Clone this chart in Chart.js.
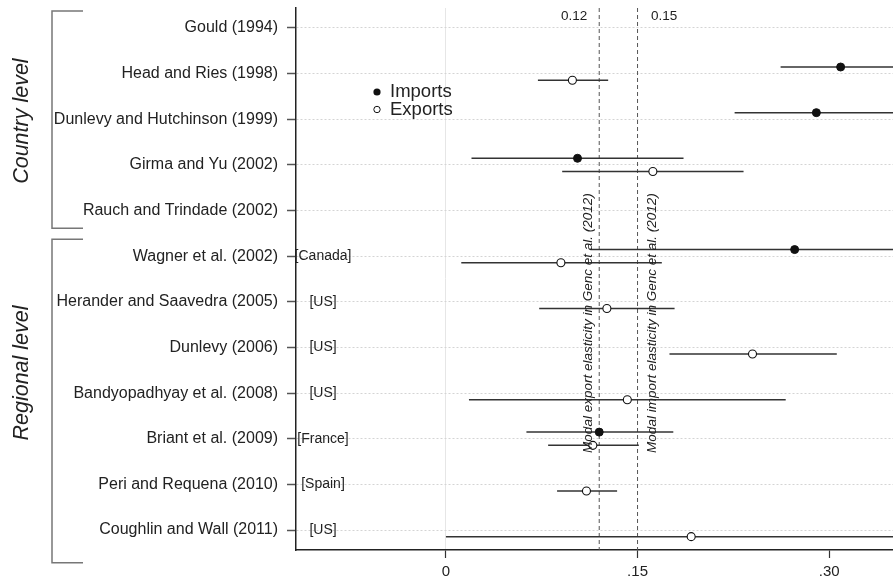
<!DOCTYPE html>
<html lang="en">
<head>
<meta charset="UTF-8">
<title>Ethnic network trade elasticities</title>
<script src="https://cdn.jsdelivr.net/npm/chart.js"></script>
<style>
  body { margin: 0; background: #fff; }
  #wrap { width: 893px; height: 583px; position: relative; }
</style>
</head>
<body>
<div id="wrap"><canvas id="chart"></canvas></div>
<script>
// studies, top to bottom
const studies = [
  'Gould (1994)', 'Head and Ries (1998)', 'Dunlevy and Hutchinson (1999)',
  'Girma and Yu (2002)', 'Rauch and Trindade (2002)', 'Wagner et al. (2002)',
  'Herander and Saavedra (2005)', 'Dunlevy (2006)', 'Bandyopadhyay et al. (2008)',
  'Briant et al. (2009)', 'Peri and Requena (2010)', 'Coughlin and Wall (2011)'
];
const regions = ['', '', '', '', '', '[Canada]', '[US]', '[US]', '[US]', '[France]', '[Spain]', '[US]'];

// estimates and interval bounds (null = not reported)
const importEst = [null, 0.309, 0.290, 0.103, null, 0.273, null, null, null, 0.120, null, null];
const importLo  = [null, 0.262, 0.226, 0.020, null, 0.113, null, null, null, 0.063, null, null];
const importHi  = [null, 0.400, 0.400, 0.186, null, 0.400, null, null, null, 0.178, null, null];
const exportEst = [null, 0.099, null, 0.162, null, 0.090, 0.126, 0.240, 0.142, 0.115, 0.110, 0.192];
const exportLo  = [null, 0.072, null, 0.091, null, 0.012, 0.073, 0.175, 0.018, 0.080, 0.087, 0.000];
const exportHi  = [null, 0.127, null, 0.233, null, 0.169, 0.179, 0.306, 0.266, 0.151, 0.134, 0.400];

// reference lines (Genc et al. 2012)
const refValues = [0.12, 0.15];
const refLabels = ['0.12', '0.15'];
const refNotes = ['Modal export elasticity in Genc et al. (2012)', 'Modal import elasticity in Genc et al. (2012)'];

const xTicks = [0, 0.15, 0.30];
const xTickLabels = ['0', '.15', '.30'];

const groupNames = ['Country level', 'Regional level'];
const groupRows = [[0, 4], [5, 11]];

const FONT = "'Liberation Sans', Arial, Helvetica, sans-serif";
const OFF = 0.145;
const Y_MIN = -0.438, Y_MAX = 11.438;

function segment(lo, hi, y, dash) {
  return {
    data: [{ x: lo, y: y }, { x: hi, y: y }],
    showLine: true,
    borderColor: dash ? '#555' : '#333',
    borderWidth: dash ? 1 : 1.5,
    borderDash: dash ? [4, 3] : [],
    pointRadius: 0,
    order: dash ? 3 : 2
  };
}

const datasets = [];
studies.forEach((s, i) => {
  if (importEst[i] !== null) datasets.push(segment(importLo[i], importHi[i], i - OFF));
  if (exportEst[i] !== null) datasets.push(segment(exportLo[i], exportHi[i], i + OFF));
});
refValues.forEach(v => {
  const d = segment(v, v, 0, true);
  d.data = [{ x: v, y: Y_MIN }, { x: v, y: Y_MAX }];
  datasets.push(d);
});
datasets.push({
  label: 'Imports',
  data: studies.map((s, i) => importEst[i] === null ? null : { x: importEst[i], y: i - OFF }).filter(Boolean),
  pointRadius: 4, backgroundColor: '#111', borderColor: '#111', borderWidth: 1, order: 0
});
datasets.push({
  label: 'Exports',
  data: studies.map((s, i) => exportEst[i] === null ? null : { x: exportEst[i], y: i + OFF }).filter(Boolean),
  pointRadius: 4, backgroundColor: '#fff', borderColor: '#111', borderWidth: 1.1, order: 0
});

const extras = {
  id: 'extras',
  afterDatasetsDraw(chart) {
    const { ctx, chartArea, scales: { x, y } } = chart;
    ctx.save();
    ctx.fillStyle = '#222';

    // values above the reference lines
    ctx.font = '13.5px ' + FONT;
    ctx.textBaseline = 'middle';
    ctx.textAlign = 'right';
    ctx.fillText(refLabels[0], x.getPixelForValue(refValues[0]) - 12, chartArea.top + 8);
    ctx.textAlign = 'left';
    ctx.fillText(refLabels[1], x.getPixelForValue(refValues[1]) + 13.5, chartArea.top + 8);

    // rotated notes along reference lines
    ctx.font = 'italic 13.5px ' + FONT;
    ctx.textBaseline = 'alphabetic';
    const yStart = y.getPixelForValue(9.31);
    [[refNotes[0], x.getPixelForValue(refValues[0]) - 7], [refNotes[1], x.getPixelForValue(refValues[1]) + 18.5]].forEach(([t, px]) => {
      ctx.save();
      ctx.translate(px, yStart);
      ctx.rotate(-Math.PI / 2);
      ctx.textAlign = 'left';
      ctx.fillText(t, 0, 0);
      ctx.restore();
    });

    // region tags next to the axis
    ctx.font = '14px ' + FONT;
    ctx.textAlign = 'center';
    ctx.textBaseline = 'middle';
    regions.forEach((r, i) => {
      if (r) ctx.fillText(r, chartArea.left + 27, y.getPixelForValue(i));
    });

    // legend
    const lx = chartArea.left + 81, ly = chartArea.top + 84;
    ctx.beginPath();
    ctx.arc(lx, ly, 3.6, 0, Math.PI * 2);
    ctx.fillStyle = '#111';
    ctx.fill();
    ctx.beginPath();
    ctx.arc(lx, ly + 17.5, 3.2, 0, Math.PI * 2);
    ctx.fillStyle = '#fff';
    ctx.fill();
    ctx.strokeStyle = '#111';
    ctx.lineWidth = 1;
    ctx.stroke();
    ctx.fillStyle = '#222';
    ctx.font = '18.5px ' + FONT;
    ctx.textAlign = 'left';
    ctx.fillText('Imports', lx + 13, ly);
    ctx.fillText('Exports', lx + 13, ly + 17.5);

    // group brackets
    ctx.strokeStyle = '#777';
    ctx.lineWidth = 1.5;
    const ends = [[-0.37, 0.39], [-0.37, 0.72]];
    const mids = [2.04, 7.56];
    groupRows.forEach(([a, b], g) => {
      const top = y.getPixelForValue(a + ends[g][0]);
      const bot = y.getPixelForValue(b + ends[g][1]);
      ctx.beginPath();
      ctx.moveTo(83, top);
      ctx.lineTo(52, top);
      ctx.lineTo(52, bot);
      ctx.lineTo(83, bot);
      ctx.stroke();
      ctx.save();
      ctx.translate(22, y.getPixelForValue(mids[g]));
      ctx.rotate(-Math.PI / 2);
      ctx.font = 'italic 21.5px ' + FONT;
      ctx.textAlign = 'center';
      ctx.textBaseline = 'middle';
      ctx.fillStyle = '#222';
      ctx.fillText(groupNames[g], 0, 0);
      ctx.restore();
    });
    ctx.restore();
  }
};

new Chart(document.getElementById('chart'), {
  type: 'scatter',
  data: { datasets },
  options: {
    responsive: true,
    maintainAspectRatio: false,
    animation: false,
    layout: { autoPadding: false, padding: { top: 8, right: 0, left: 0, bottom: 0 } },
    plugins: { legend: { display: false }, tooltip: { enabled: false } },
    scales: {
      x: {
        type: 'linear',
        min: -0.1174,
        max: 0.35,
        afterBuildTicks: s => { s.ticks = xTicks.map(v => ({ value: v })); },
        afterFit: s => { s.height = 33; s.paddingLeft = 0; s.paddingRight = 0; },
        ticks: {
          callback: (v, i) => xTickLabels[i],
          font: { family: FONT, size: 15 },
          color: '#222',
          padding: 5,
          maxRotation: 0
        },
        grid: {
          color: c => (c.tick && c.tick.value === 0) ? '#e6e6e6' : 'rgba(0,0,0,0)',
          tickColor: '#333',
          tickLength: 8,
          tickWidth: 1.2
        },
        border: { display: true, color: '#222', width: 1.5 }
      },
      y: {
        type: 'linear',
        reverse: true,
        min: Y_MIN,
        max: Y_MAX,
        afterBuildTicks: s => { s.ticks = studies.map((t, i) => ({ value: i })); },
        afterFit: s => { s.width = 296; s.paddingTop = 0; s.paddingBottom = 0; },
        ticks: {
          callback: v => studies[v],
          font: { family: FONT, size: 16 },
          color: '#222',
          padding: 9,
          autoSkip: false
        },
        grid: {
          color: '#d4d4d4',
          lineWidth: 1,
          tickColor: '#555',
          tickLength: 9,
          tickWidth: 1.5
        },
        border: { display: true, color: '#222', width: 1.5, dash: [2, 2] }
      }
    }
  },
  plugins: [extras]
});
</script>
</body>
</html>
